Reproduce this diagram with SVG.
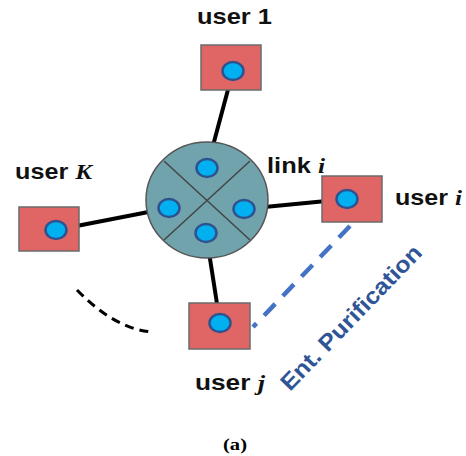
<svg xmlns="http://www.w3.org/2000/svg" width="466" height="456" viewBox="0 0 466 456">
<style>
.box{fill:#E06666;stroke:#6b6b6b;stroke-width:1.5}
.dot{fill:#00B0F0;stroke:#2F528F;stroke-width:2.5}
.lbl{font-family:"Liberation Sans",Arial,sans-serif;font-weight:bold;font-size:21.5px;fill:#111}
.m{font-family:"Liberation Serif","Times New Roman",serif;font-style:italic;font-weight:bold}
.link{stroke:#000;stroke-width:4;fill:none}
</style>
<rect width="466" height="456" fill="#fff"/>
<g id="connectors">
<line class="link" x1="233" y1="71" x2="207" y2="168"/>
<line class="link" x1="56" y1="230" x2="169" y2="208"/>
<line class="link" x1="244" y1="209" x2="347" y2="199"/>
<line class="link" x1="206" y1="233" x2="220" y2="323"/>
<path d="M77,290 Q115,329 152,332" fill="none" stroke="#000" stroke-width="3" stroke-dasharray="9,6"/>
<line x1="350" y1="226" x2="253" y2="327" stroke="#4472C4" stroke-width="4.5" stroke-dasharray="16,11"/>
</g>
<g id="link">
<ellipse cx="207" cy="200" rx="61" ry="58" fill="#71A3AD" stroke="#555" stroke-width="1.5"/>
<line x1="164" y1="161" x2="250" y2="240" stroke="#444" stroke-width="1.5"/>
<line x1="250" y1="161" x2="164" y2="240" stroke="#444" stroke-width="1.5"/>
<ellipse class="dot" cx="207" cy="168" rx="10.5" ry="9"/>
<ellipse class="dot" cx="169" cy="208" rx="10.5" ry="9"/>
<ellipse class="dot" cx="244" cy="209" rx="10.5" ry="9"/>
<ellipse class="dot" cx="206" cy="233" rx="10.5" ry="9"/>
<text class="lbl" x="267" y="173" textLength="58" lengthAdjust="spacingAndGlyphs">link <tspan class="m">i</tspan></text>
</g>
<g id="user1">
<rect class="box" x="201" y="45" width="60" height="45"/>
<ellipse class="dot" cx="233" cy="71" rx="10.5" ry="9"/>
<text class="lbl" x="197" y="24" textLength="75" lengthAdjust="spacingAndGlyphs">user 1</text>
</g>
<g id="userK">
<rect class="box" x="19" y="207" width="60" height="44"/>
<ellipse class="dot" cx="56" cy="230" rx="10.5" ry="9"/>
<text class="lbl" x="15" y="179" textLength="77" lengthAdjust="spacingAndGlyphs">user <tspan class="m">K</tspan></text>
</g>
<g id="useri">
<rect class="box" x="322" y="176" width="60" height="46"/>
<ellipse class="dot" cx="347" cy="199" rx="10.5" ry="9"/>
<text class="lbl" x="395" y="205" textLength="67" lengthAdjust="spacingAndGlyphs">user <tspan class="m">i</tspan></text>
</g>
<g id="userj">
<rect class="box" x="189" y="303" width="61" height="46"/>
<ellipse class="dot" cx="220" cy="323" rx="10.5" ry="9"/>
<text class="lbl" x="195" y="390" textLength="70" lengthAdjust="spacingAndGlyphs">user <tspan class="m">j</tspan></text>
</g>
<g id="purification">
<text class="lbl" transform="translate(290,392) rotate(-46)" style="fill:#2F5597;font-size:23px" textLength="192" lengthAdjust="spacingAndGlyphs">Ent. Purification</text>
</g>
<text x="223" y="450" font-family="Liberation Serif,'Times New Roman',serif" font-weight="bold" font-size="17" textLength="24" lengthAdjust="spacingAndGlyphs" fill="#000">(a)</text>
</svg>
